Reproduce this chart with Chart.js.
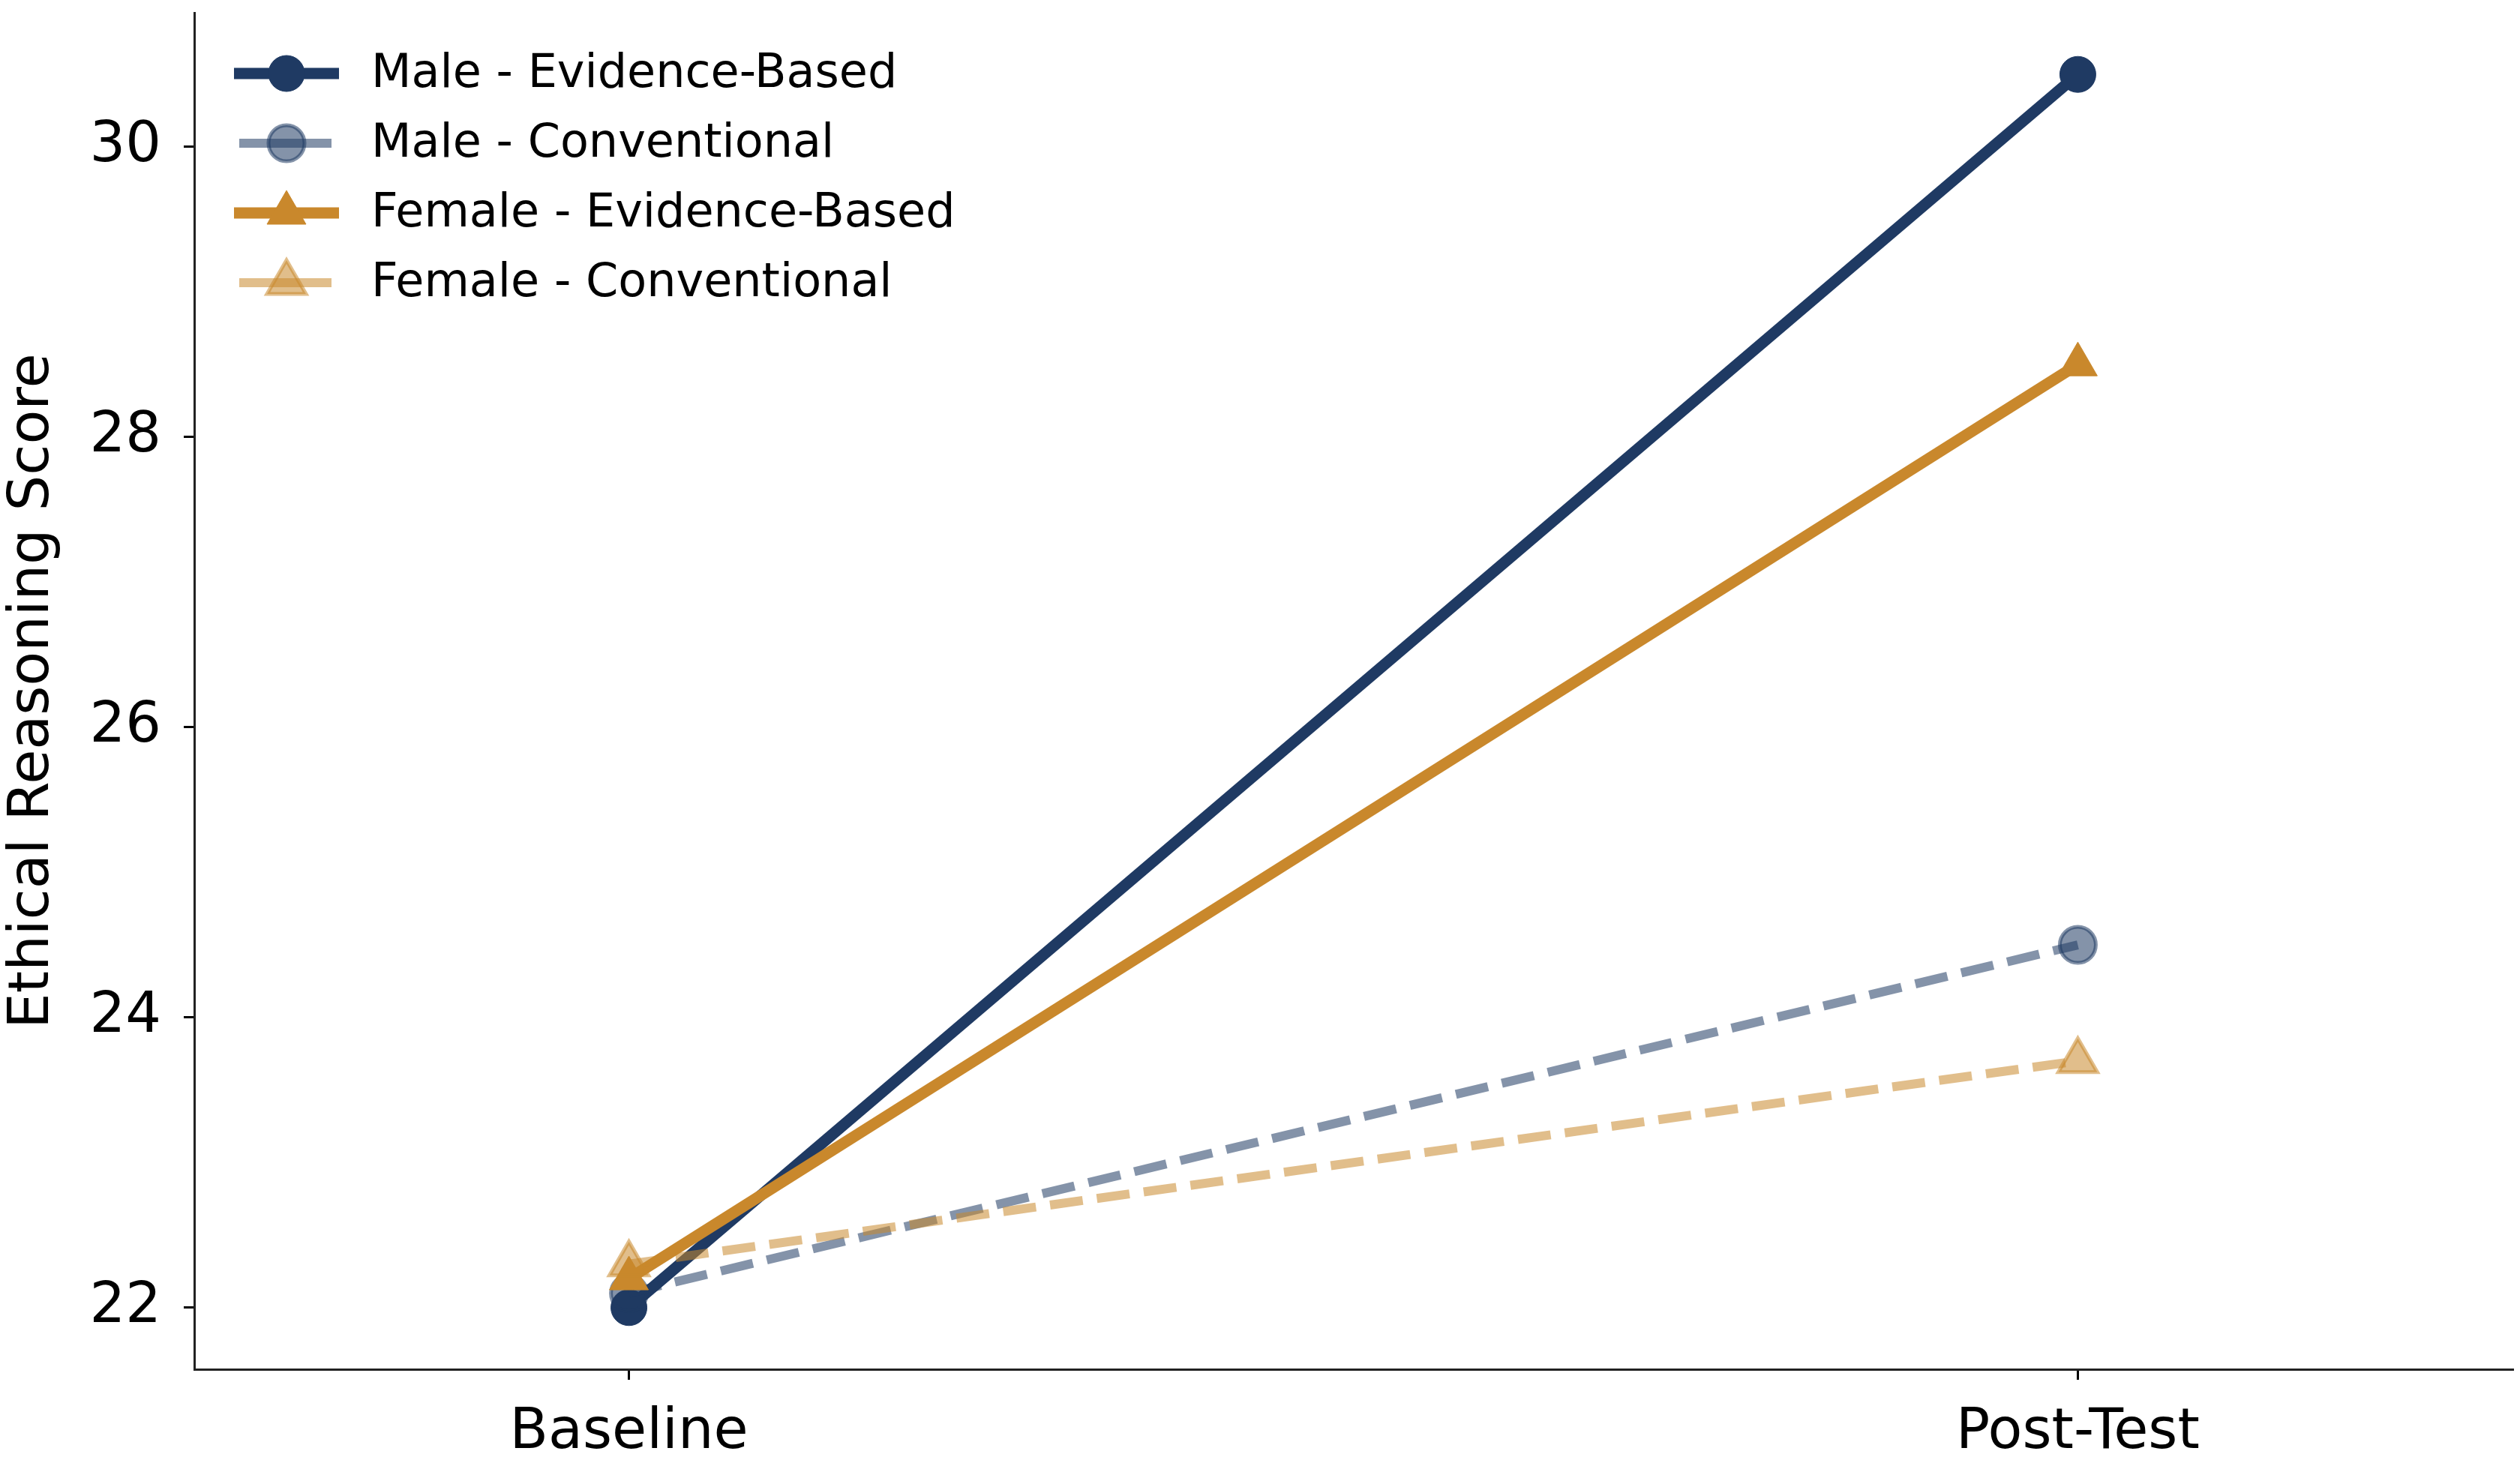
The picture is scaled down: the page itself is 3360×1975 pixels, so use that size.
<!DOCTYPE html>
<html>
<head>
<meta charset="utf-8">
<script src="https://cdn.jsdelivr.net/npm/chart.js@4/dist/chart.umd.min.js"></script>
<style>
  html, body { margin: 0; padding: 0; background: #fff; }
  #wrap { width: 3360px; height: 1975px; }
</style>
</head>
<body>
<div id="wrap"><canvas id="myChart" width="3360" height="1975"></canvas></div>
<script>
// data
const categories = ['Baseline', 'Post-Test']
const seriesNames = ['Male - Evidence-Based', 'Male - Conventional', 'Female - Evidence-Based', 'Female - Conventional']
const maleEvidence = [22.0, 30.5]
const maleConventional = [22.1, 24.5]
const femaleEvidence = [22.2, 28.5]
const femaleConventional = [22.3, 23.7]
const yTicks = [22, 24, 26, 28, 30]

const navy = '#1f3a63'
const navyFaded = 'rgba(31, 58, 99, 0.55)'
const gold = '#c9882c'
const goldFaded = 'rgba(201, 136, 44, 0.55)'
const FONT = 'DejaVu Sans'

// builder for one line
const buildDataSet = (i, values, color, dashed, pointStyle) => {
  return {
    label: seriesNames[i],
    data: values.map((v, k) => ({ x: k, y: v })),
    borderColor: color,
    backgroundColor: color,
    pointBackgroundColor: color,
    pointBorderColor: color,
    borderWidth: dashed ? 12 : 15,
    borderDash: dashed ? [44, 19] : [],
    pointStyle: pointStyle,
    pointRadius: pointStyle === 'triangle' ? 30 : 24,
    pointBorderWidth: dashed ? 5 : 1,
    tension: 0,
    order: 3 - i
  }
}

const dataSets = [
  buildDataSet(0, maleEvidence, navy, false, 'circle'),
  buildDataSet(1, maleConventional, navyFaded, true, 'circle'),
  buildDataSet(2, femaleEvidence, gold, false, 'triangle'),
  buildDataSet(3, femaleConventional, goldFaded, true, 'triangle')
]

// matplotlib-ish legend: line sample + marker + text
const lineLegend = {
  id: 'lineLegend',
  afterDraw(chart) {
    const ctx = chart.ctx, area = chart.chartArea
    chart.data.datasets.forEach((ds, i) => {
      const y = area.top + 81 + i * 93
      const x0 = area.left + 53, x1 = area.left + 193
      const xm = area.left + 123
      ctx.save()
      ctx.strokeStyle = ds.borderColor
      ctx.lineWidth = ds.borderWidth
      ctx.beginPath()
      ctx.moveTo(ds.borderDash.length ? x0 + 7 : x0, y)
      ctx.lineTo(ds.borderDash.length ? x1 - 10 : x1, y)
      ctx.stroke()
      ctx.fillStyle = ds.pointBackgroundColor
      ctx.strokeStyle = ds.pointBorderColor
      ctx.lineWidth = ds.pointBorderWidth
      Chart.helpers.drawPoint(ctx, {
        pointStyle: ds.pointStyle,
        rotation: 0,
        radius: ds.pointRadius,
        borderWidth: ds.pointBorderWidth
      }, xm, y)
      ctx.fillStyle = '#000'
      ctx.font = `62px "${FONT}"`
      ctx.textBaseline = 'middle'
      ctx.textAlign = 'left'
      ctx.fillText(ds.label, area.left + 236, y + 2)
      ctx.restore()
    })
  }
}

// creating the chart
const createChart = () => {
  let ctx = document.getElementById('myChart').getContext('2d'),
      chart = new Chart(ctx, {
    type: 'line',
    data: { datasets: dataSets },
    plugins: [lineLegend],
    options: {
      responsive: false,
      animation: false,
      events: [],
      layout: { autoPadding: false, padding: { top: 17, right: 10, left: 0, bottom: 0 } },
      plugins: { legend: { display: false }, tooltip: { enabled: false } },
      scales: {
        x: {
          type: 'linear',
          min: -0.3,
          max: 1.3,
          afterBuildTicks: s => { s.ticks = categories.map((c, k) => ({ value: k })) },
          afterFit: s => { s.height = 149; s.paddingLeft = 0; s.paddingRight = 0 },
          grid: { display: true, drawOnChartArea: false, drawTicks: true, tickLength: 14, color: '#000', lineWidth: 3 },
          border: { display: true, color: '#222', width: 3 },
          ticks: {
            callback: v => categories[v],
            color: '#000',
            padding: 27,
            maxRotation: 0,
            font: { family: FONT, size: 75 }
          }
        },
        y: {
          min: 21.575,
          max: 30.925,
          afterBuildTicks: s => { s.ticks = yTicks.map(v => ({ value: v })) },
          afterFit: s => { s.width = 259; s.paddingTop = 0; s.paddingBottom = 0 },
          grid: { display: true, drawOnChartArea: false, drawTicks: true, tickLength: 14, color: '#000', lineWidth: 3 },
          border: { display: true, color: '#222', width: 3 },
          title: {
            display: true,
            text: 'Ethical Reasoning Score',
            color: '#000',
            padding: { top: 0, bottom: 0 },
            font: { family: FONT, size: 75 }
          },
          ticks: {
            color: '#000',
            padding: 30,
            font: { family: FONT, size: 75 }
          }
        }
      }
    }
  })
  return chart
}

createChart()
</script>
</body>
</html>
